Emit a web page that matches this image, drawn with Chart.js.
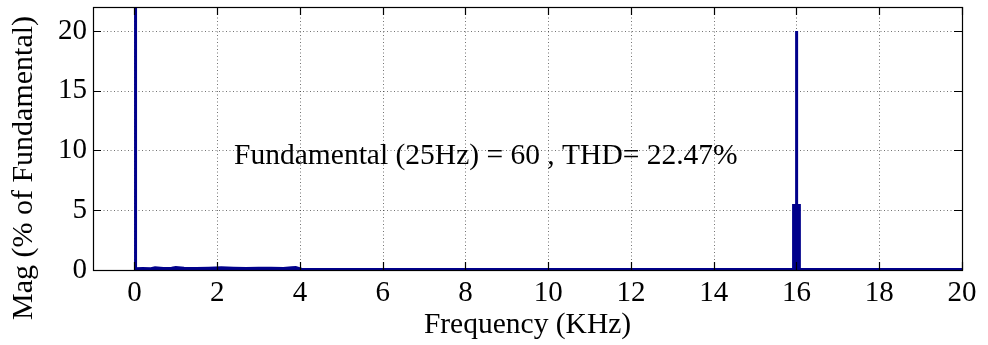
<!DOCTYPE html>
<html>
<head>
<meta charset="utf-8">
<script src="https://cdn.jsdelivr.net/npm/chart.js@4.4.1/dist/chart.umd.min.js"></script>
<style>
  html, body { margin: 0; padding: 0; background: #fff; }
  canvas { display: block; }
</style>
</head>
<body>
<canvas id="canvas" width="988" height="345"></canvas>
<script>
// harmonic spectrum, frequency in kHz, magnitude in % of fundamental
var freqKHz = [0, 0.025, 0.025, 0.03, 0.03, 0.2, 0.4, 0.5, 0.7, 0.9, 1.0, 1.2, 1.5, 1.8, 2.1, 2.4, 2.7, 3.0, 3.3, 3.6, 3.8, 3.9, 4.05,
               5, 7, 9, 11, 13, 15, 15.93, 15.93, 15.99, 15.99, 16.01, 16.01, 16.07, 16.07, 17, 19, 20];
var magPct  = [0.05, 0.05, 100, 100, 0.1, 0.12, 0.1, 0.18, 0.12, 0.15, 0.2, 0.15, 0.12, 0.15, 0.18, 0.15, 0.12, 0.15, 0.15, 0.12, 0.18, 0.2, 0.05,
               0.05, 0.04, 0.05, 0.05, 0.04, 0.05, 0.05, 5.4, 5.4, 20, 20, 5.4, 5.4, 0.05, 0.05, 0.04, 0.05];

var xTickValues = [0, 2, 4, 6, 8, 10, 12, 14, 16, 18, 20];
var yTickValues = [0, 5, 10, 15, 20];

var noteText = 'Fundamental (25Hz) = 60 , THD= 22.47%';
var noteAt = { x: 2.41, y: 8.9 };

var serif = '"Liberation Serif", "Times New Roman", serif';
var lineBlue = '#00008B';

var points = freqKHz.map(function (f, i) { return { x: f, y: magPct[i] }; });

// dotted grid underneath, box + inward ticks + text on top
var framePlugin = {
  id: 'frame',
  beforeDatasetsDraw: function (chart) {
    var c = chart.ctx, a = chart.chartArea;
    var xs = chart.scales.x, ys = chart.scales.y;
    c.save();
    c.strokeStyle = 'rgba(0,0,0,0.55)';
    c.lineWidth = 1;
    c.setLineDash([1, 2.5]);
    xTickValues.forEach(function (v) {
      var px = Math.round(xs.getPixelForValue(v)) + 0.5;
      c.beginPath(); c.moveTo(px, a.top); c.lineTo(px, a.bottom); c.stroke();
    });
    yTickValues.forEach(function (v) {
      if (v === 0) return;
      var py = Math.round(ys.getPixelForValue(v)) + 0.5;
      c.beginPath(); c.moveTo(a.left, py); c.lineTo(a.right, py); c.stroke();
    });
    c.restore();
  },
  afterDatasetsDraw: function (chart) {
    var c = chart.ctx, a = chart.chartArea;
    var xs = chart.scales.x, ys = chart.scales.y;
    var tick = 8;
    c.save();
    c.strokeStyle = '#000';
    c.lineWidth = 1.2;
    c.setLineDash([]);
    c.strokeRect(Math.round(a.left) + 0.5, Math.round(a.top) + 0.5,
                 Math.round(a.right - a.left), Math.round(a.bottom - a.top));
    xTickValues.forEach(function (v) {
      var px = Math.round(xs.getPixelForValue(v)) + 0.5;
      c.beginPath();
      c.moveTo(px, a.bottom); c.lineTo(px, a.bottom - tick);
      c.moveTo(px, a.top); c.lineTo(px, a.top + tick);
      c.stroke();
    });
    yTickValues.forEach(function (v) {
      var py = Math.round(ys.getPixelForValue(v)) + 0.5;
      c.beginPath();
      c.moveTo(a.left, py); c.lineTo(a.left + tick, py);
      c.moveTo(a.right, py); c.lineTo(a.right - tick, py);
      c.stroke();
    });

    c.fillStyle = '#000';
    c.font = '29.5px ' + serif;
    c.textAlign = 'left';
    c.textBaseline = 'alphabetic';
    c.fillText(noteText, xs.getPixelForValue(noteAt.x), ys.getPixelForValue(noteAt.y));

    // y axis title
    c.font = '30px ' + serif;
    c.translate(24, 168);
    c.rotate(-Math.PI / 2);
    c.textAlign = 'center';
    c.textBaseline = 'middle';
    c.fillText('Mag (% of Fundamental)', 0, 0);
    c.restore();
  }
};

var ctx = document.getElementById('canvas').getContext('2d');
var chart = new Chart(ctx, {
  type: 'line',
  data: {
    datasets: [{
      data: points,
      borderColor: lineBlue,
      backgroundColor: lineBlue,
      borderWidth: 3,
      fill: 'origin',
      pointRadius: 0,
      tension: 0,
      clip: { left: 0, top: 0, right: 0, bottom: 3 }
    }]
  },
  options: {
    responsive: false,
    animation: false,
    layout: { padding: { top: 7, right: 26, left: 0, bottom: 0 } },
    plugins: {
      legend: { display: false },
      tooltip: { enabled: false }
    },
    scales: {
      x: {
        type: 'linear',
        min: -1,
        max: 20,
        grid: { display: false, drawTicks: false },
        border: { display: false },
        afterBuildTicks: function (s) { s.ticks = xTickValues.map(function (v) { return { value: v }; }); },
        afterFit: function (s) { s.height = 75; s.paddingLeft = 0; s.paddingRight = 0; },
        ticks: {
          color: '#000',
          padding: 6,
          maxRotation: 0,
          font: { family: serif, size: 29 },
          callback: function (v) { return String(v); }
        },
        title: {
          display: true,
          text: 'Frequency (KHz)',
          color: '#000',
          padding: { top: 0, bottom: 2 },
          font: { family: serif, size: 29.5 }
        }
      },
      y: {
        type: 'linear',
        min: 0,
        max: 22,
        grid: { display: false, drawTicks: false },
        border: { display: false },
        afterBuildTicks: function (s) { s.ticks = yTickValues.map(function (v) { return { value: v }; }); },
        afterFit: function (s) { s.width = 93; s.paddingTop = 0; s.paddingBottom = 0; },
        ticks: {
          color: '#000',
          padding: 6,
          font: { family: serif, size: 29 },
          callback: function (v) { return String(v); }
        }
      }
    }
  },
  plugins: [framePlugin]
});
</script>
</body>
</html>
